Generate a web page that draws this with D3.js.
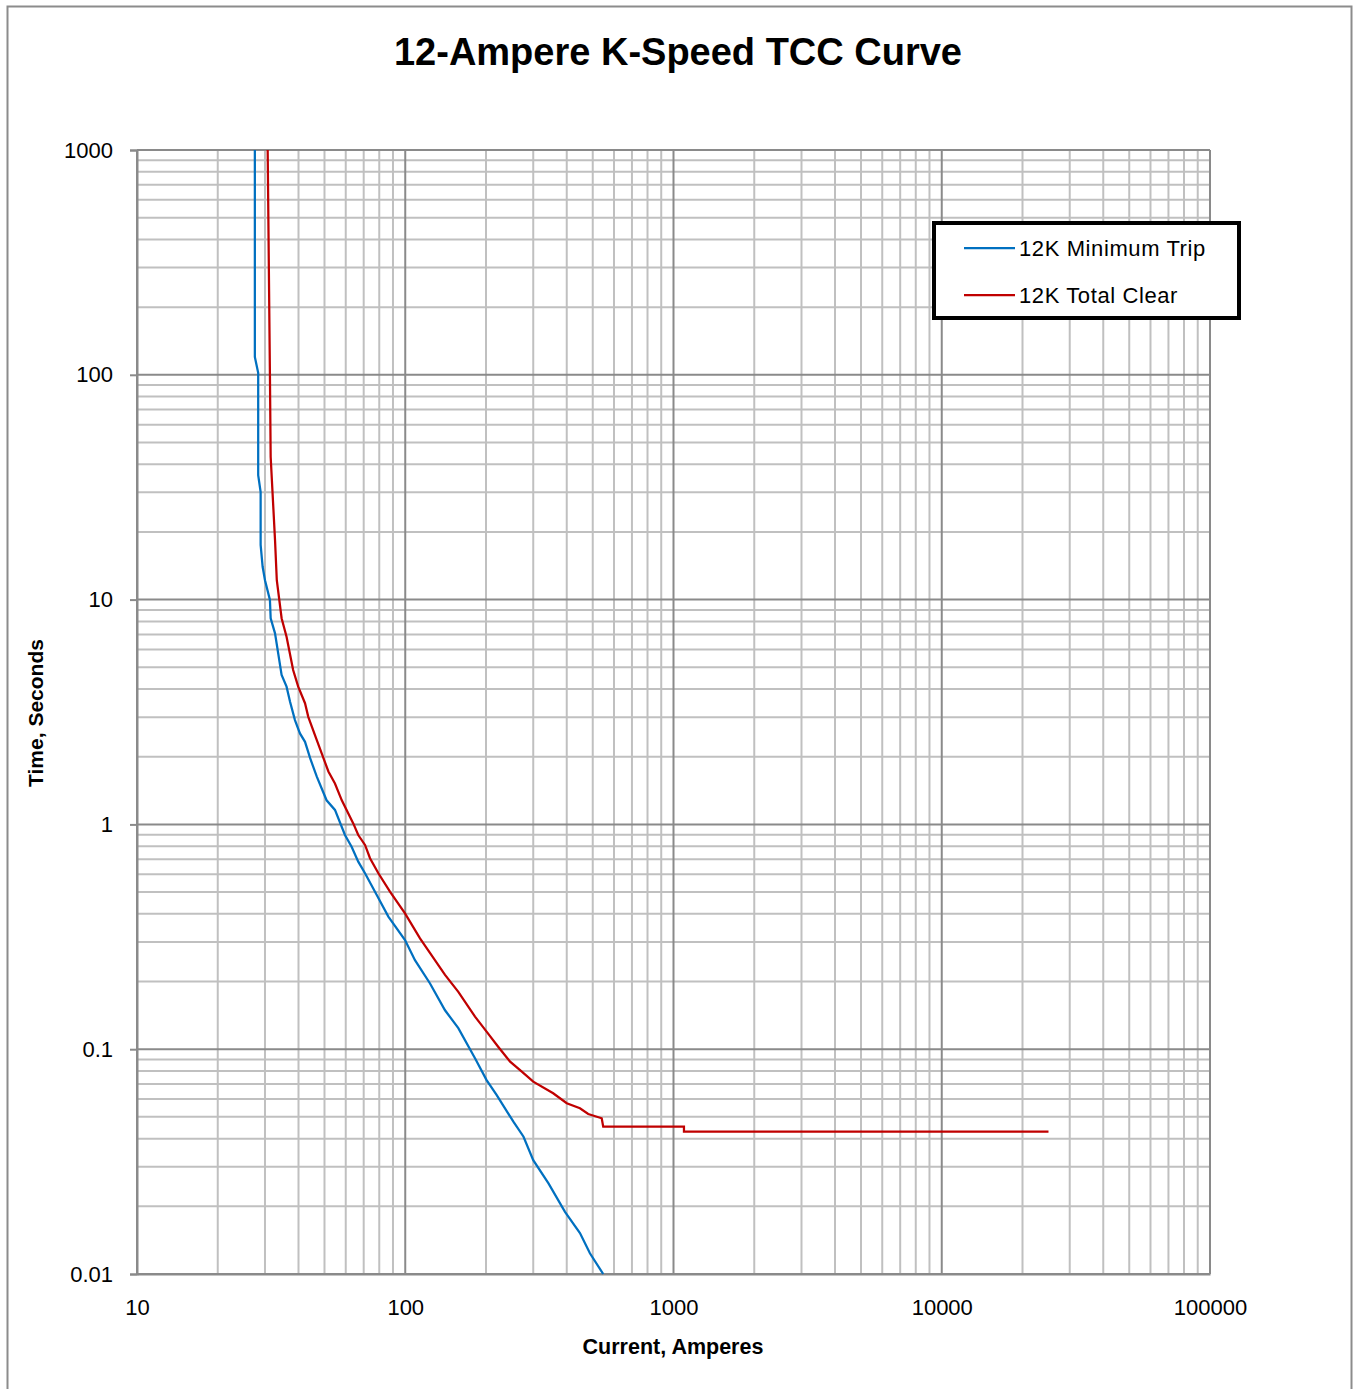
<!DOCTYPE html>
<html><head><meta charset="utf-8">
<script src="https://cdn.jsdelivr.net/npm/d3@7"></script>
<style>
html,body{margin:0;padding:0;background:#fff;}
svg text{font-family:"Liberation Sans",Arial,sans-serif;}
</style>
</head><body>
<script>
const title = "12-Ampere K-Speed TCC Curve";
const xTitle = "Current, Amperes";
const yTitle = "Time, Seconds";
const xTicks = [10, 100, 1000, 10000, 100000];
const yTicks = [0.01, 0.1, 1, 10, 100, 1000];
const seriesNames = ["12K Minimum Trip", "12K Total Clear"];
const seriesColors = ["#0070C0", "#C00000"];

// Minimum Trip: [current A, time s]
const minTripCurrent = [27.5,27.5,28.3,28.3,28.9,28.9,29.4,30.0,31.3,31.5,32.7,34.6,36.1,37.2,38.8,40.5,42.3,44.2,46.8,50.9,54.7,59.6,63.1,66.8,70.8,78.3,86.5,99.8,108.7,123.7,140.7,157.7,182,201,219,253,276,300,342,394,448,488,547];
const minTripTime = [1000,120,102,35.8,30.1,17.5,14.0,12.2,9.96,8.26,7.08,4.62,4.10,3.51,2.91,2.54,2.33,1.97,1.63,1.28,1.16,0.897,0.796,0.683,0.606,0.485,0.389,0.306,0.249,0.196,0.149,0.124,0.0911,0.0729,0.0626,0.0476,0.0408,0.0321,0.0253,0.0189,0.0152,0.01236,0.01];

// Total Clear: [current A, time s]
const totalClearCurrent = [30.7,31.3,31.5,32.7,33.2,34.6,36.1,38.2,39.9,42.3,43.5,46.8,51.7,54.7,58.0,64.0,66.8,70.8,73.9,79.4,87.7,99.8,113.5,140.7,157.7,182,201,222,246,272,300,356,400,448,481,540,547,1094,1094,25000];
const totalClearTime = [1000,100,43.1,18.4,12.2,8.26,6.84,4.86,4.10,3.46,3.01,2.37,1.72,1.52,1.28,1.01,0.897,0.81,0.707,0.606,0.502,0.402,0.311,0.214,0.180,0.1395,0.1197,0.1026,0.088,0.0794,0.0717,0.0637,0.0575,0.0546,0.0515,0.0493,0.0452,0.0452,0.0430,0.0430];

const W = 1356, H = 1389;
const plot = {left:137, top:150, right:1210, bottom:1274};

const svg = d3.select("body").append("svg").attr("width", W).attr("height", H);

svg.append("rect").attr("x",7.5).attr("y",6.5).attr("width",1344).attr("height",1400)
  .attr("fill","#fff").attr("stroke","#8c8c8c").attr("stroke-width",2);

const x = d3.scaleLog().domain([10,100000]).range([plot.left, plot.right]);
const y = d3.scaleLog().domain([0.01,1000]).range([plot.bottom, plot.top]);

function minors(lo, hi){
  const out=[];
  for(let d=lo; d<hi; d*=10){ for(let k=2;k<=9;k++) out.push(+(d*k).toPrecision(6)); }
  return out;
}
const xMinor = minors(10,100000), yMinor = minors(0.01,1000);

const g = svg.append("g");
g.selectAll(".xm").data(xMinor).join("line")
  .attr("x1",d=>x(d)).attr("x2",d=>x(d)).attr("y1",plot.top).attr("y2",plot.bottom)
  .attr("stroke","#c0c0c0").attr("stroke-width",2);
g.selectAll(".ym").data(yMinor).join("line")
  .attr("y1",d=>y(d)).attr("y2",d=>y(d)).attr("x1",plot.left).attr("x2",plot.right)
  .attr("stroke","#c0c0c0").attr("stroke-width",2);
g.selectAll(".xM").data(xTicks).join("line")
  .attr("x1",d=>x(d)).attr("x2",d=>x(d)).attr("y1",plot.top).attr("y2",plot.bottom)
  .attr("stroke","#8a8a8a").attr("stroke-width",2);
g.selectAll(".yM").data(yTicks).join("line")
  .attr("y1",d=>y(d)).attr("y2",d=>y(d)).attr("x1",plot.left).attr("x2",plot.right)
  .attr("stroke","#8a8a8a").attr("stroke-width",2);

const yAxis = d3.axisLeft(y).tickValues(yTicks).tickFormat(d=>String(d)).tickSize(7).tickPadding(17);
const ya = svg.append("g").attr("transform",`translate(${plot.left},0)`).call(yAxis);
ya.select(".domain").attr("stroke","#8a8a8a").attr("stroke-width",2);
ya.selectAll(".tick line").attr("stroke","#8a8a8a").attr("stroke-width",2);
ya.selectAll("text").attr("font-size",22).attr("fill","#000").attr("font-family","Liberation Sans, Arial, sans-serif");

const xAxis = d3.axisBottom(x).tickValues(xTicks).tickFormat(d=>String(d)).tickSize(0).tickPadding(25);
const xa = svg.append("g").attr("transform",`translate(0,${plot.bottom})`).call(xAxis);
xa.select(".domain").attr("stroke","#8a8a8a").attr("stroke-width",2);
xa.selectAll("text").attr("font-size",22).attr("fill","#000").attr("font-family","Liberation Sans, Arial, sans-serif");

const line = d3.line().x(d=>x(d[0])).y(d=>y(d[1]));
const series = [
  d3.zip(minTripCurrent, minTripTime),
  d3.zip(totalClearCurrent, totalClearTime)
];
svg.append("g").selectAll("path").data(series).join("path")
  .attr("d", line).attr("fill","none")
  .attr("stroke",(d,i)=>seriesColors[i]).attr("stroke-width",2.25);

svg.append("text").attr("x",678).attr("y",65).attr("text-anchor","middle")
  .attr("font-size",38).attr("font-weight","bold").text(title);
svg.append("text").attr("x",673).attr("y",1354).attr("text-anchor","middle")
  .attr("font-size",21.5).attr("font-weight","bold").text(xTitle);
svg.append("text").attr("transform","translate(43,713) rotate(-90)").attr("text-anchor","middle")
  .attr("font-size",21).attr("font-weight","bold").text(yTitle);

const lg = svg.append("g");
lg.append("rect").attr("x",934).attr("y",223).attr("width",305).attr("height",95)
  .attr("fill","#fff").attr("stroke","#000").attr("stroke-width",4);
seriesNames.forEach((n,i)=>{
  const yy = 248 + i*47;
  lg.append("line").attr("x1",964).attr("x2",1015).attr("y1",yy).attr("y2",yy)
    .attr("stroke",seriesColors[i]).attr("stroke-width",2.25);
  lg.append("text").attr("x",1019).attr("y",yy+8).attr("font-size",22)
    .attr("letter-spacing",0.6).text(n);
});
</script>
</body></html>
